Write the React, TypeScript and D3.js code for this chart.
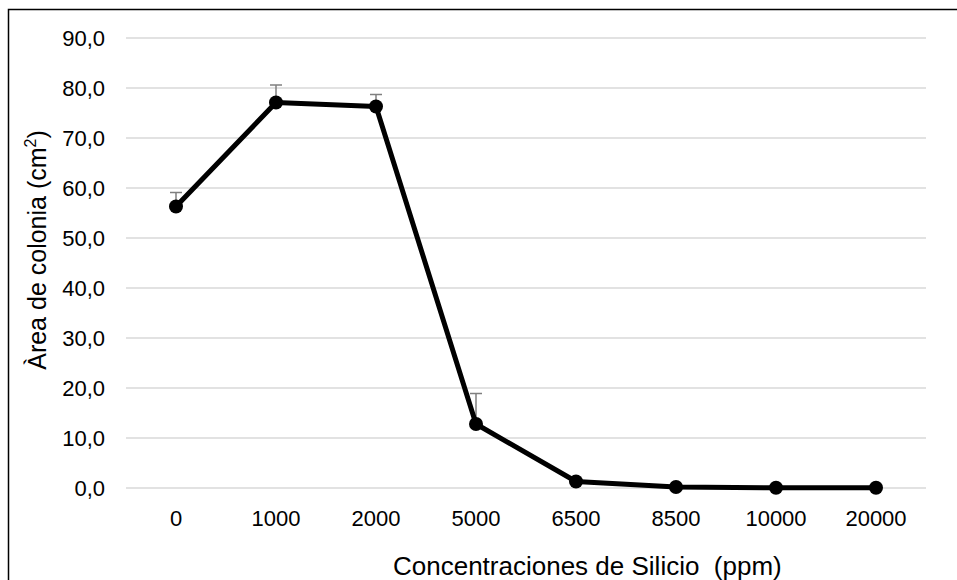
import React from "react";
import * as d3 from "d3";

const categories = ["0", "1000", "2000", "5000", "6500", "8500", "10000", "20000"];
const values = [56.3, 77.1, 76.3, 12.8, 1.3, 0.2, 0.05, 0.05];
const errors = [2.8, 3.5, 2.4, 6.1, 0, 0, 0, 0];
const yTicks = [0, 10, 20, 30, 40, 50, 60, 70, 80, 90];

const W = 957;
const H = 580;
const left = 126;
const right = 926;
const top = 38;
const bottom = 488;

export default function App() {
  const x = d3.scaleBand<string>().domain(categories).range([left, right]);
  const y = d3.scaleLinear().domain([0, 90]).range([bottom, top]);
  const cx = (c: string) => (x(c) ?? 0) + x.bandwidth() / 2;
  const line = d3
    .line<number>()
    .x((_, i) => cx(categories[i]))
    .y((d) => y(d));
  const fmt = (v: number) => v.toFixed(1).replace(".", ",");
  const font = "Liberation Sans, Arial, sans-serif";

  return (
    <svg
      width={W}
      height={H}
      style={{ position: "absolute", left: 0, top: 0, background: "#fff" }}
      fontFamily={font}
    >
      <rect x={0} y={0} width={W} height={H} fill="#fff" />
      <path d={`M8.5,${H} L8.5,9.5 L${W},9.5`} fill="none" stroke="#000" strokeWidth={1.5} />
      {yTicks.map((t) => (
        <g key={t}>
          <line x1={left} x2={right} y1={y(t)} y2={y(t)} stroke="#d9d9d9" strokeWidth={1.3} />
          <text x={105} y={y(t) + 8} textAnchor="end" fontSize={22} fill="#000">
            {fmt(t)}
          </text>
        </g>
      ))}
      {categories.map((c) => (
        <text key={c} x={cx(c)} y={526} textAnchor="middle" fontSize={22} fill="#000">
          {c}
        </text>
      ))}
      {values.map((v, i) =>
        errors[i] > 0 ? (
          <g key={"e" + i} stroke="#7f7f7f" strokeWidth={1.5}>
            <line x1={cx(categories[i])} x2={cx(categories[i])} y1={y(v)} y2={y(v + errors[i])} />
            <line x1={cx(categories[i]) - 6} x2={cx(categories[i]) + 6} y1={y(v + errors[i])} y2={y(v + errors[i])} />
          </g>
        ) : null
      )}
      <path d={line(values) ?? ""} fill="none" stroke="#000" strokeWidth={5} strokeLinejoin="round" />
      {values.map((v, i) => (
        <circle key={"c" + i} cx={cx(categories[i])} cy={y(v)} r={7} fill="#000" />
      ))}
      <text x={393} y={575} textAnchor="start" fontSize={26} fill="#000">
        Concentraciones de Silicio{"\u00a0\u00a0"}(ppm)
      </text>
      <text
        transform={`translate(46,250) rotate(-90)`}
        textAnchor="middle"
        fontSize={25}
        fill="#000"
      >
        Àrea de colonia (cm
        <tspan dy={-10} fontSize={16}>2</tspan>
        <tspan dy={10}>)</tspan>
      </text>
    </svg>
  );
}
